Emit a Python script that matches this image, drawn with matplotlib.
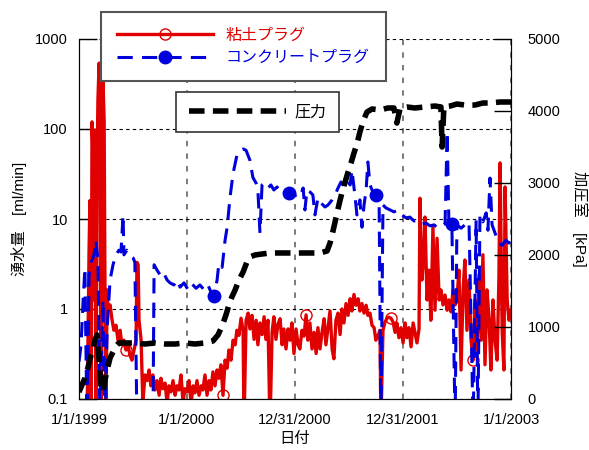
import numpy as np
import matplotlib
matplotlib.use('Agg')
import matplotlib.pyplot as plt
from matplotlib.lines import Line2D

plt.rcParams['font.family'] = ['Liberation Sans', 'Noto Sans CJK JP']

# days since 1999-01-01 / flow of the clay plug (ml/min)
clay_days = [27, 34, 37, 41, 44, 47, 51, 54, 57, 61, 64, 68, 71, 74, 78, 81, 85, 88, 91, 95,
             98, 105, 112, 118, 125, 132, 139, 145, 152, 159, 166, 172, 179, 186, 193, 196, 200, 203, 210, 216,
             223, 230, 237, 243, 250, 257, 264, 271, 277, 284, 291, 298, 304, 311, 318, 325, 331, 338, 345, 352,
             358, 365, 372, 379, 386, 392, 399, 406, 413, 419, 426, 433, 440, 446, 453, 460, 467, 473, 480, 487,
             494, 501, 507, 514, 521, 528, 534, 541, 548, 555, 558, 565, 572, 578, 585, 592, 599, 605, 612, 619,
             626, 632, 639, 646, 653, 659, 666, 673, 680, 687, 693, 700, 707, 714, 720, 727, 734, 741, 747, 754,
             761, 768, 774, 781, 788, 795, 802, 808, 815, 822, 829, 835, 842, 849, 856, 862, 869, 876, 883, 889,
             896, 903, 910, 917, 923, 930, 937, 944, 950, 957, 964, 971, 977, 984, 991, 998, 1004, 1011, 1018, 1021,
             1028, 1035, 1042, 1048, 1055, 1062, 1069, 1075, 1082, 1089, 1096, 1103, 1109, 1116, 1123, 1130, 1136, 1143, 1150, 1153,
             1160, 1167, 1170, 1177, 1184, 1190, 1197, 1204, 1211, 1218, 1224, 1231, 1238, 1245, 1251, 1258, 1265, 1272, 1278, 1285,
             1292, 1299, 1305, 1312, 1319, 1326, 1333, 1339, 1346, 1353, 1360, 1366, 1373, 1380, 1387, 1393, 1400, 1407, 1414, 1420,
             1424, 1431, 1437, 1441, 1448, 1454, 1461]
clay_flow = [0.05, 4.5, 16, 0.05, 120, 58, 1.26, 97, 0.05, 35, 210, 540, 270, 0.05, 4.5, 350, 126, 1.26, 0.05, 1.63,
             0.97, 1.11, 0.75, 0.58, 0.66, 0.45, 0.58, 0.40, 0.45, 0.35, 0.40, 0.31, 0.27, 0.35, 0.45, 3.3, 3.1, 0.75, 0.45, 0.09,
             0.185, 0.16, 0.21, 0.14, 0.185, 0.126, 0.16, 0.11, 0.17, 0.13, 0.15, 0.09, 0.14, 0.12, 0.16, 0.11, 0.14, 0.126, 0.185, 0.09,
             0.13, 0.12, 0.16, 0.09, 0.14, 0.117, 0.16, 0.11, 0.14, 0.126, 0.185, 0.11, 0.16, 0.126, 0.20, 0.14, 0.21, 0.17, 0.24, 0.11,
             0.27, 0.22, 0.35, 0.27, 0.45, 0.40, 0.58, 0.51, 0.79, 0.58, 0.05, 0.75, 0.90, 0.60, 0.85, 0.46, 0.75, 0.40, 0.70, 0.52,
             0.82, 0.46, 0.75, 0.05, 0.55, 0.82, 0.46, 0.68, 0.78, 0.40, 0.60, 0.36, 0.60, 0.45, 0.70, 0.32, 0.60, 0.40, 0.36, 0.58,
             0.50, 0.86, 0.45, 0.70, 0.36, 0.55, 0.32, 0.62, 0.36, 0.55, 0.78, 0.40, 0.62, 0.95, 0.36, 0.28, 0.75, 0.90, 0.52, 1.0,
             0.70, 1.15, 0.85, 1.3, 0.95, 1.45, 1.1, 1.3, 0.95, 1.15, 0.90, 1.1, 0.85, 0.90, 0.66, 0.62, 0.45, 0.50, 0.58, 0.05,
             0.58, 0.72, 0.79, 0.81, 0.79, 0.72, 0.55, 0.70, 0.48, 0.62, 0.42, 0.70, 0.48, 0.62, 0.38, 0.70, 0.55, 0.42, 0.60, 17,
             2.1, 4.5, 10.5, 1.26, 2.7, 0.75, 8.1, 0.97, 6.1, 1.26, 1.63, 1.11, 1.43, 0.97, 1.26, 0.93, 1.63, 1.11, 1.26, 2.7,
             0.21, 1.63, 3.5, 0.58, 2.1, 0.45, 0.27, 1.26, 0.35, 2.4, 0.45, 4.0, 0.24, 1.63, 0.75, 0.21, 1.26, 0.45, 0.27, 2.1,
             42, 0.58, 0.21, 22.7, 1.26, 0.75, 0.97]
clay_mark_days = [156, 487, 768, 1055, 1333]

# concrete plug flow (ml/min)
conc_days = [0, 7, 14, 20, 27, 34, 41, 51, 57, 64, 71, 81, 88, 95, 105, 115, 125, 135, 142, 149,
             152, 162, 172, 183, 189, 196, 223, 250, 254, 264, 274, 284, 298, 308, 321, 331, 342, 355, 369, 382,
             396, 409, 423, 436, 446, 457, 467, 473, 484, 494, 501, 511, 521, 534, 545, 555, 565, 578, 588, 599,
             605, 612, 619, 629, 639, 649, 659, 670, 680, 690, 700, 710, 724, 737, 747, 758, 764, 771, 781, 791,
             798, 808, 818, 832, 842, 856, 866, 876, 886, 896, 906, 917, 923, 933, 940, 950, 957, 964, 971, 977,
             984, 994, 1004, 1015, 1021, 1028, 1038, 1052, 1065, 1079, 1092, 1106, 1119, 1133, 1147, 1160, 1174, 1187, 1201, 1214,
             1228, 1238, 1245, 1251, 1261, 1272, 1278, 1292, 1305, 1319, 1333, 1343, 1349, 1356, 1366, 1377, 1383, 1390, 1397, 1407,
             1417, 1431, 1444, 1454, 1461]
conc_flow = [0.26, 0.40, 1.26, 2.85, 0.05, 2.4, 3.3, 4.0, 5.8, 3.5, 0.05, 1.26, 0.05, 0.58, 2.1, 3.1, 4.0, 4.5, 4.3, 11.1,
             4.0, 4.5, 4.0, 3.7, 3.3, 0.05, 0.05, 0.05, 3.1, 2.7, 2.4, 2.6, 2.1, 1.95, 1.85, 2.1, 1.75, 1.95, 1.63, 1.9,
             1.7, 1.85, 1.63, 1.85, 1.55, 1.39, 2.1, 3.2, 2.9, 5.8, 8.1, 17.6, 32, 51, 58, 60, 58, 45, 29, 25,
             21, 7.0, 23.9, 25, 22.1, 23.9, 21, 22.7, 20, 21, 19, 19.4, 18, 18.5, 17.6, 22.1, 12.6, 21, 20, 18.5,
             11.1, 17.1, 15.1, 13.6, 14.3, 16.3, 18.5, 22.1, 25.8, 23.3, 27, 23.9, 35, 18.5, 11.1, 16.3, 8.1, 14.3, 21, 43,
             23.9, 20, 18.5, 16.3, 0.05, 14.3, 13.3, 12.6, 12, 12.6, 11.1, 10.3, 10.5, 9.5, 9.7, 8.8, 9.0, 8.4, 8.6, 7.9,
             8.4, 8.8, 93, 8.8, 8.8, 0.05, 8.6, 7.9, 8.6, 9.3, 0.05, 9.7, 0.05, 11.1, 9.3, 11.7, 7.5, 28.5, 8.6, 7.0,
             5.5, 5.1, 5.8, 5.4, 6.1]
conc_mark_days = [457, 710, 1004, 1261]

# chamber pressure (kPa)
pres_days = [0, 10, 20, 30, 41, 47, 54, 61, 68, 74, 81, 88, 95, 105, 115, 125, 135, 156, 189, 223,
             257, 291, 325, 358, 392, 426, 453, 470, 484, 497, 507, 517, 528, 541, 555, 568, 578, 595, 619, 646,
             680, 714, 747, 781, 815, 839, 849, 859, 869, 879, 889, 900, 910, 920, 930, 940, 950, 961, 974, 991,
             1018, 1045, 1065, 1075, 1086, 1109, 1136, 1170, 1204, 1224, 1228, 1234, 1255, 1278, 1305, 1339, 1366, 1390, 1424, 1461]
pres_kpa = [97, 194, 292, 431, 611, 681, 819, 889, 542, 194, 97, 264, 403, 569, 653, 736, 778, 778, 778, 764,
            778, 764, 764, 778, 764, 778, 806, 889, 1014, 1167, 1306, 1417, 1514, 1653, 1764, 1903, 1972, 2000, 2014, 2028,
            2028, 2028, 2028, 2028, 2028, 2056, 2167, 2333, 2514, 2694, 2861, 3014, 3153, 3278, 3417, 3542, 3708, 3861, 3986, 4028,
            4014, 4042, 4042, 3833, 4042, 4056, 4042, 4056, 4069, 4056, 3500, 4056, 4069, 4097, 4083, 4083, 4111, 4111, 4125, 4125]

tick_dates = ['1999-01-01', '2000-01-01', '2000-12-31', '2001-12-31', '2003-01-01']
tick_labels = ['1/1/1999', '1/1/2000', '12/31/2000', '12/31/2001', '1/1/2003']

start = np.datetime64('1999-01-01')
def to_date(d):
    return start + np.array(d, dtype='timedelta64[D]')

red = '#e00000'
blue = '#0000dd'

fig = plt.figure(figsize=(5.89, 4.5), dpi=100)
ax1 = fig.add_axes([79/589, 1-399/450, 432/589, 360/450])
ax2 = ax1.twinx()

clay_idx = [int(np.argmin(np.abs(np.array(clay_days) - d))) for d in clay_mark_days]
conc_idx = [int(np.argmin(np.abs(np.array(conc_days) - d))) for d in conc_mark_days]

ax1.plot(to_date(clay_days), clay_flow, color=red, lw=2.4, marker='o', markevery=clay_idx,
         mfc='none', mec=red, ms=8, mew=1)
ax1.plot(to_date(conc_days), conc_flow, color=blue, lw=2.2, dashes=(5, 3), marker='o',
         markevery=conc_idx, mfc=blue, mec=blue, ms=9)
ax2.plot(to_date(pres_days), pres_kpa, color='black', lw=4, dashes=(2.8, 1.5))

ax1.set_yscale('log')
ax1.set_ylim(0.1, 1000)
ax1.set_yticks([0.1, 1, 10, 100, 1000])
ax1.set_yticklabels(['0.1', '1', '10', '100', '1000'])
ax1.yaxis.set_minor_locator(matplotlib.ticker.NullLocator())
ax2.set_ylim(0, 5000)
ax2.set_yticks([0, 1000, 2000, 3000, 4000, 5000])

ax1.set_xlim(to_date(0), np.datetime64('2003-01-01'))
ax1.set_xticks([np.datetime64(d) for d in tick_dates])
ax1.set_xticklabels(tick_labels)

ax1.tick_params(axis='y', direction='in', length=13, width=1, labelsize=10.5, pad=8)
ax2.tick_params(axis='y', direction='in', length=12, width=1, labelsize=10.5, pad=12)
ax1.tick_params(axis='x', direction='in', length=0, labelsize=10.5, pad=10)

ax1.yaxis.grid(True, color='black', linestyle=(0, (3, 3)), lw=0.8)
ax1.xaxis.grid(True, color='#707070', linestyle=(0, (3, 4)), lw=1.3)
for ax in (ax1, ax2):
    ax.spines['top'].set_visible(False)

ax1.set_xlabel('日付', fontsize=11, labelpad=4)
ax1.set_ylabel('湧水量　[ml/min]', fontsize=11, labelpad=6)
ax2.set_ylabel('加圧室　[kPa]', fontsize=11, rotation=270, labelpad=20)

h1 = [Line2D([], [], color=red, lw=2.4, marker='o', mfc='none', mec=red, ms=8, mew=1),
      Line2D([], [], color=blue, lw=2.2, dashes=(5, 3), marker='o', mfc=blue, mec=blue, ms=9)]
leg1 = ax2.legend(h1, ['粘土プラグ', 'コンクリートプラグ'], loc='upper left',
                  bbox_to_anchor=(0.051, 1.075), borderaxespad=0, fontsize=11.5,
                  handlelength=6.0, handletextpad=0.8, borderpad=1.0, labelspacing=0.45,
                  fancybox=False, framealpha=1, edgecolor='#555555')
leg1.get_frame().set_linewidth(1.5)
leg1.get_texts()[0].set_color(red)
leg1.get_texts()[1].set_color(blue)
ax2.add_artist(leg1)

h2 = [Line2D([], [], color='black', lw=4, dashes=(2.8, 1.5))]
leg2 = ax2.legend(h2, ['圧力'], loc='upper left', bbox_to_anchor=(0.2245, 0.853),
                  borderaxespad=0, fontsize=11.5, handlelength=6.1, handletextpad=0.5,
                  borderpad=0.8, fancybox=False, framealpha=1, edgecolor='#333333')
leg2.get_frame().set_linewidth(1.2)

fig.savefig('out.png', dpi=100)
